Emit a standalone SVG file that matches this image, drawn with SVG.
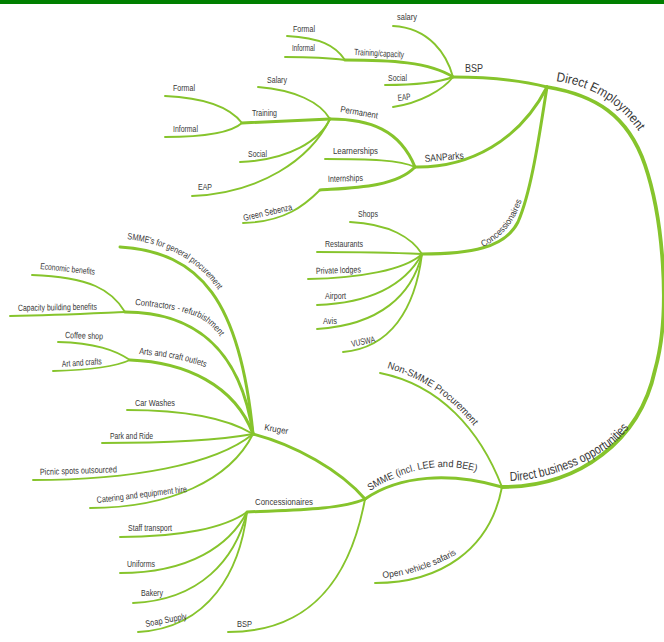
<svg xmlns="http://www.w3.org/2000/svg" xmlns:xlink="http://www.w3.org/1999/xlink" width="664" height="642" viewBox="0 0 664 642">
  <style>
    .c path { fill: none; stroke: #86c42c; stroke-linecap: round; }
    .trunk { stroke-width: 3.8; }
    .branch { stroke-width: 3; }
    .leaf { stroke-width: 1.9; }
    text { font-family: "Liberation Sans Narrow", "Liberation Sans", Arial, sans-serif; fill: #383838; }
    .s { font-size: 9px; }
    .m { font-size: 10px; }
    .l { font-size: 13px; }
  </style>
  <defs>
    <!-- baselines for the curved labels -->
    <path id="tp-de" d="M556,81 C590,86 618,100 642,136"/>
    <path id="tp-dbo" d="M510,481 C545,480 585,465 612,445 C622,437 630,427 637,416"/>
    <path id="tp-conc" d="M483,247 C497,240 510,228 517,212 C521,203 524,195 527,183"/>
    <path id="tp-nonsmme" d="M387,368 C420,378 450,395 476,429"/>
    <path id="tp-smme" d="M370,491 C395,475 420,467 445,467 C458,467 468,469 481,473"/>
    <path id="tp-ovs" d="M383,578 C405,576 432,569 462,551"/>
    <path id="tp-gen" d="M127,239 C165,244 200,258 224,299"/>
    <path id="tp-contr" d="M135,305 C160,307 185,311 200,318 C210,324 218,332 223,341"/>
    <path id="tp-arts" d="M139,354 C160,356 185,359 207,368"/>
  </defs>

  <!-- header bar -->
  <rect x="0" y="0" width="664" height="4" fill="#007f00"/>

  <g id="connectors" class="c">
    <!-- main trunk between the two top-level topics -->
    <path class="trunk" d="M547,87 C595,95 628,115 645,165 C662,215 672,310 655,370 C640,440 580,487 502,487"/>
    <!-- Direct Employment branches -->
    <path class="branch" d="M453,77 C490,77 520,80 547,87"/>
    <path class="branch" d="M415,167 C470,168 520,140 547,87"/>
    <path class="branch" d="M422,254 C470,254 505,248 518,222 C532,190 540,130 547,87"/>
    <path class="branch" d="M345,60 C390,60 430,62 453,77"/>
    <path class="branch" d="M330,119 C370,119 400,130 415,167"/>
    <path class="branch" d="M320,190 C350,188 395,188 415,167"/>
    <path class="branch" d="M242,123 C280,121 310,120 330,119"/>
    <!-- BSP leaves -->
    <path class="leaf" d="M393,26 C430,28 447,55 453,77"/>
    <path class="leaf" d="M287,36 C320,38 335,45 345,60"/>
    <path class="leaf" d="M285,57 C310,57 330,58 345,60"/>
    <path class="leaf" d="M385,85 C415,85 440,82 453,77"/>
    <path class="leaf" d="M393,107 C420,103 443,90 453,77"/>
    <!-- Permanent leaves -->
    <path class="leaf" d="M258,87 C295,90 320,102 330,119"/>
    <path class="leaf" d="M165,96 C210,98 232,110 242,123"/>
    <path class="leaf" d="M165,137 C210,137 232,132 242,123"/>
    <path class="leaf" d="M240,162 C290,160 320,140 330,119"/>
    <path class="leaf" d="M192,196 C260,193 310,160 330,119"/>
    <!-- SANParks leaves -->
    <path class="leaf" d="M325,159 C370,159 400,160 415,167"/>
    <path class="leaf" d="M243,223 C285,222 305,205 320,190"/>
    <!-- Concessionaires (employment) leaves -->
    <path class="leaf" d="M350,222 C390,224 412,238 422,254"/>
    <path class="leaf" d="M317,252 C360,252 400,253 422,254"/>
    <path class="leaf" d="M308,279 C360,278 405,270 422,254"/>
    <path class="leaf" d="M317,305 C370,303 405,285 422,254"/>
    <path class="leaf" d="M317,329 C380,325 412,295 422,254"/>
    <path class="leaf" d="M343,352 C390,348 415,310 422,254"/>
    <!-- Direct business opportunities branches -->
    <path class="branch" d="M365,499 C400,475 450,472 502,487"/>
    <path class="leaf" d="M380,373 C440,385 480,430 502,487"/>
    <path class="leaf" d="M502,487 C490,550 440,583 375,583"/>
    <path class="branch" d="M253,434 C295,445 340,470 365,499"/>
    <path class="branch" d="M247,512 C290,510 340,510 365,499"/>
    <path class="leaf" d="M365,499 C350,580 310,632 228,632"/>
    <!-- Kruger branches -->
    <path class="branch" d="M120,247 C200,252 240,300 253,434"/>
    <path class="branch" d="M125,312 C190,312 240,345 253,434"/>
    <path class="branch" d="M130,360 C185,362 235,385 253,434"/>
    <path class="leaf" d="M32,275 C90,277 112,290 125,312"/>
    <path class="leaf" d="M10,316 C60,315 100,313 125,312"/>
    <path class="leaf" d="M58,342 C95,343 115,350 130,360"/>
    <path class="leaf" d="M53,371 C90,370 115,367 130,360"/>
    <path class="leaf" d="M127,410 C190,410 230,420 253,434"/>
    <path class="leaf" d="M102,443 C170,443 220,440 253,434"/>
    <path class="leaf" d="M33,480 C130,480 215,465 253,434"/>
    <path class="leaf" d="M90,508 C170,508 230,480 253,434"/>
    <!-- Concessionaires (business) leaves -->
    <path class="leaf" d="M120,537 C180,537 225,528 247,512"/>
    <path class="leaf" d="M120,573 C190,573 230,545 247,512"/>
    <path class="leaf" d="M133,603 C200,600 235,560 247,512"/>
    <path class="leaf" d="M138,632 C210,628 240,570 247,512"/>
  </g>

  <g id="direct-employment"><text class="l"><textPath href="#tp-de" textLength="100" lengthAdjust="spacingAndGlyphs">Direct Employment</textPath></text></g>
  <g id="bsp"><text class="m" x="465" y="72" textLength="18" lengthAdjust="spacingAndGlyphs">BSP</text></g>
  <g id="bsp-salary"><text class="s" x="397" y="20" textLength="20" lengthAdjust="spacingAndGlyphs">salary</text></g>
  <g id="bsp-training"><text class="s" x="354" y="55" textLength="50" lengthAdjust="spacingAndGlyphs" transform="rotate(3 354 55)">Training/capacity</text></g>
  <g id="bsp-formal"><text class="s" x="293" y="32" textLength="22" lengthAdjust="spacingAndGlyphs">Formal</text></g>
  <g id="bsp-informal"><text class="s" x="292" y="51" textLength="23" lengthAdjust="spacingAndGlyphs">Informal</text></g>
  <g id="bsp-social"><text class="s" x="388" y="81" textLength="19" lengthAdjust="spacingAndGlyphs">Social</text></g>
  <g id="bsp-eap"><text class="s" x="398" y="101" textLength="13" lengthAdjust="spacingAndGlyphs" transform="rotate(-6 398 101)">EAP</text></g>

  <g id="sanparks"><text class="m" x="425" y="162" textLength="39" lengthAdjust="spacingAndGlyphs" transform="rotate(-5 425 162)">SANParks</text></g>
  <g id="permanent"><text class="s" x="340" y="112" textLength="38" lengthAdjust="spacingAndGlyphs" transform="rotate(10 340 112)">Permanent</text></g>
  <g id="perm-salary"><text class="s" x="267" y="83" textLength="20" lengthAdjust="spacingAndGlyphs">Salary</text></g>
  <g id="perm-training"><text class="s" x="252" y="116" textLength="25" lengthAdjust="spacingAndGlyphs">Training</text></g>
  <g id="perm-formal"><text class="s" x="173" y="91" textLength="22" lengthAdjust="spacingAndGlyphs">Formal</text></g>
  <g id="perm-informal"><text class="s" x="173" y="132" textLength="25" lengthAdjust="spacingAndGlyphs">Informal</text></g>
  <g id="perm-social"><text class="s" x="248" y="157" textLength="19" lengthAdjust="spacingAndGlyphs">Social</text></g>
  <g id="perm-eap"><text class="s" x="198" y="190" textLength="14" lengthAdjust="spacingAndGlyphs">EAP</text></g>
  <g id="learnerships"><text class="s" x="333" y="154" textLength="45" lengthAdjust="spacingAndGlyphs">Learnerships</text></g>
  <g id="internships"><text class="s" x="328" y="182" textLength="35" lengthAdjust="spacingAndGlyphs" transform="rotate(-2 328 182)">Internships</text></g>
  <g id="green-sebenza"><text class="s" x="244" y="221" textLength="50" lengthAdjust="spacingAndGlyphs" transform="rotate(-13 244 221)">Green Sebenza</text></g>

  <g id="concessionaires-emp"><text class="s"><textPath href="#tp-conc" textLength="62" lengthAdjust="spacingAndGlyphs">Concessionaires</textPath></text></g>
  <g id="shops"><text class="s" x="358" y="217" textLength="20" lengthAdjust="spacingAndGlyphs">Shops</text></g>
  <g id="restaurants"><text class="s" x="325" y="247" textLength="38" lengthAdjust="spacingAndGlyphs">Restaurants</text></g>
  <g id="private-lodges"><text class="s" x="316" y="274" textLength="45" lengthAdjust="spacingAndGlyphs" transform="rotate(-2 316 274)">Private lodges</text></g>
  <g id="airport"><text class="s" x="325" y="299" textLength="21" lengthAdjust="spacingAndGlyphs">Airport</text></g>
  <g id="avis"><text class="s" x="323" y="324" textLength="14" lengthAdjust="spacingAndGlyphs">Avis</text></g>
  <g id="vuswa"><text class="s" x="352" y="347" textLength="24" lengthAdjust="spacingAndGlyphs" transform="rotate(-12 352 347)">VUSWA</text></g>

  <g id="direct-business"><text class="l"><textPath href="#tp-dbo" textLength="134" lengthAdjust="spacingAndGlyphs">Direct business opportunities</textPath></text></g>
  <g id="non-smme"><text class="m"><textPath href="#tp-nonsmme" textLength="106" lengthAdjust="spacingAndGlyphs">Non-SMME Procurement</textPath></text></g>
  <g id="smme"><text class="m"><textPath href="#tp-smme" textLength="112" lengthAdjust="spacingAndGlyphs">SMME (incl. LEE and BEE)</textPath></text></g>
  <g id="open-vehicle"><text class="s"><textPath href="#tp-ovs" textLength="78" lengthAdjust="spacingAndGlyphs">Open vehicle safaris</textPath></text></g>

  <g id="kruger"><text class="s" x="264" y="430" textLength="24" lengthAdjust="spacingAndGlyphs" transform="rotate(10 264 430)">Kruger</text></g>
  <g id="smme-general"><text class="s"><textPath href="#tp-gen" textLength="108" lengthAdjust="spacingAndGlyphs">SMME's for general procurement</textPath></text></g>
  <g id="contractors"><text class="s"><textPath href="#tp-contr" textLength="94" lengthAdjust="spacingAndGlyphs">Contractors - refurbishment</textPath></text></g>
  <g id="economic"><text class="s" x="40" y="269" textLength="55" lengthAdjust="spacingAndGlyphs" transform="rotate(6 40 269)">Economic benefits</text></g>
  <g id="capacity"><text class="s" x="18" y="311" textLength="79" lengthAdjust="spacingAndGlyphs" transform="rotate(-1 18 311)">Capacity building benefits</text></g>
  <g id="arts-outlets"><text class="s"><textPath href="#tp-arts" textLength="68" lengthAdjust="spacingAndGlyphs">Arts and craft outlets</textPath></text></g>
  <g id="coffee"><text class="s" x="65" y="338" textLength="38" lengthAdjust="spacingAndGlyphs" transform="rotate(2 65 338)">Coffee shop</text></g>
  <g id="art-crafts"><text class="s" x="62" y="367" textLength="40" lengthAdjust="spacingAndGlyphs" transform="rotate(-4 62 367)">Art and crafts</text></g>
  <g id="car-washes"><text class="s" x="135" y="406" textLength="40" lengthAdjust="spacingAndGlyphs">Car Washes</text></g>
  <g id="park-ride"><text class="s" x="110" y="439" textLength="43" lengthAdjust="spacingAndGlyphs">Park and Ride</text></g>
  <g id="picnic"><text class="s" x="40" y="475" textLength="77" lengthAdjust="spacingAndGlyphs" transform="rotate(-2 40 475)">Picnic spots outsourced</text></g>
  <g id="catering"><text class="s" x="97" y="503" textLength="91" lengthAdjust="spacingAndGlyphs" transform="rotate(-7 97 503)">Catering and equipment hire</text></g>

  <g id="concessionaires-bus"><text class="s" x="255" y="505" textLength="58" lengthAdjust="spacingAndGlyphs">Concessionaires</text></g>
  <g id="staff-transport"><text class="s" x="128" y="531" textLength="44" lengthAdjust="spacingAndGlyphs">Staff transport</text></g>
  <g id="uniforms"><text class="s" x="127" y="567" textLength="28" lengthAdjust="spacingAndGlyphs">Uniforms</text></g>
  <g id="bakery"><text class="s" x="141" y="596" textLength="22" lengthAdjust="spacingAndGlyphs">Bakery</text></g>
  <g id="soap"><text class="s" x="146" y="627" textLength="42" lengthAdjust="spacingAndGlyphs" transform="rotate(-11 146 627)">Soap Supply</text></g>
  <g id="bsp-bus"><text class="s" x="237" y="627" textLength="15" lengthAdjust="spacingAndGlyphs">BSP</text></g>
</svg>
